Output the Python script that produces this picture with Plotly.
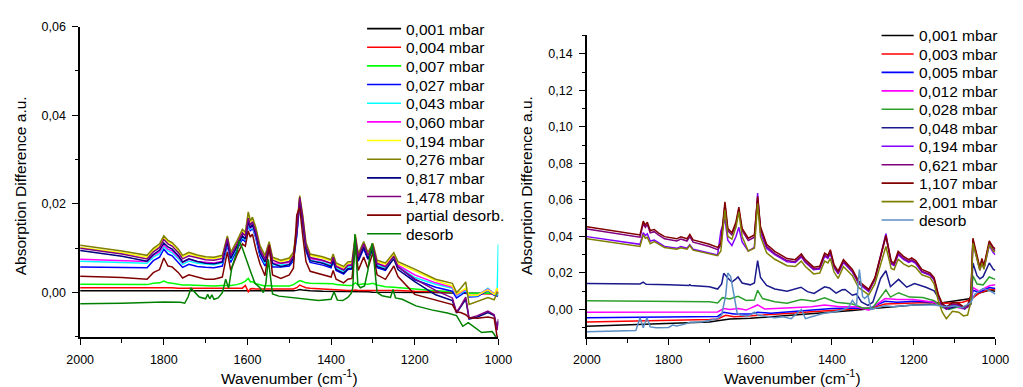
import plotly.graph_objects as go

# ---------------- Left panel data ----------------
wn_L = [2000,1900,1840,1825,1810,1800,1790,1780,1765,1755,1740,1720,1700,1680,1660,1648,1640,1625,1612,1605,
        1598,1593,1588,1580,1570,1558,1548,1540,1520,1500,1490,1482,1475,1468,1460,1450,1420,1400,1395,1388,
        1370,1360,1350,1342,1335,1322,1312,1300,1290,1270,1250,1240,1200,1150,1110,1100,1090,1078,1070,1050,
        1025,1010,1003,1000]

L_0001 = [.0004,.0004,.0004,.0004,.0004,.0004,.0004,.0004,.0004,.0004,
          .0004,.0004,.0004,.0004,.0003,.0003,.0003,.0003,.0003,.0003,
          .0003,.0003,.0003,.0003,.0003,.0003,.0003,.0003,.0003,.0004,
          .0004,.0005,.0007,.0006,.0005,.0004,.0003,.0003,.0003,.0002,
          .0002,.0002,.0002,.0002,.0002,.0002,.0002,.0001,.0001,.0001,
          .0001,.0001,.0000,.0000,-.0001,-.0001,-.0001,-.0001,-.0002,-.0002,
          -.0002,-.0002,-.0002,-.0002]
L_0004 = [.0011,.0011,.0011,.0011,.0011,.0012,.0011,.0011,.0010,.0010,
          .0010,.0010,.0009,.0009,.0009,.0009,.0009,.0009,.0010,.0016,
          .0002,.0008,.0009,.0008,.0008,.0007,.0007,.0007,.0007,.0007,
          .0008,.0011,.0017,.0014,.0011,.0010,.0008,.0006,.0006,.0006,
          .0005,.0005,.0005,.0006,.0005,.0005,.0005,.0005,.0005,.0005,
          .0006,.0005,.0003,.0002,.0001,.0000,.0000,.0000,-.0002,-.0002,
          -.0003,-.0003,-.0003,-.0003]
L_0007 = [.0019,.0019,.0018,.0021,.0022,.0026,.0022,.0021,.0019,.0017,
          .0017,.0016,.0015,.0015,.0016,.0016,.0016,.0018,.0022,.0026,
          .0032,.0024,.0025,.0020,.0017,.0015,.0016,.0015,.0015,.0015,
          .0018,.0022,.0027,.0025,.0022,.0021,.0020,.0019,.0020,.0018,
          .0016,.0016,.0016,.0022,.0018,.0020,.0019,.0021,.0017,.0013,
          .0012,.0011,.0008,.0004,.0002,-.0001,.0000,.0001,-.0002,-.0001,
          -.0001,-.0002,-.0001,-.0001]
L_0027 = [.0058,.0057,.0056,.0072,.0080,.0098,.0087,.0083,.0068,.0057,
          .0064,.0059,.0057,.0056,.0060,.0108,.0068,.0095,.0121,.0114,
          .0152,.0139,.0146,.0123,.0082,.0060,.0097,.0058,.0058,.0060,
          .0072,.0128,.0205,.0158,.0094,.0068,.0062,.0056,.0070,.0050,
          .0042,.0052,.0053,.0115,.0071,.0099,.0075,.0096,.0056,.0050,
          .0080,.0058,.0029,.0012,.0003,-.0012,-.0006,.0002,-.0010,-.0009,
          .0005,-.0006,-.0008,-.0006]
L_0043 = [.0071,.0068,.0066,.0080,.0088,.0104,.0094,.0090,.0076,.0064,
          .0071,.0066,.0064,.0063,.0067,.0112,.0074,.0100,.0125,.0118,
          .0155,.0142,.0149,.0127,.0088,.0066,.0102,.0063,.0062,.0064,
          .0076,.0132,.0207,.0162,.0098,.0073,.0068,.0062,.0076,.0056,
          .0048,.0058,.0059,.0118,.0076,.0104,.0080,.0101,.0062,.0056,
          .0081,.0060,.0034,.0019,.0010,-.0006,-.0002,.0006,-.0008,-.0007,
          .0010,-.0003,-.0005,.0109]
L_0060 = [.0075,.0072,.0070,.0084,.0092,.0108,.0098,.0094,.0080,.0068,
          .0075,.0070,.0068,.0067,.0071,.0115,.0078,.0103,.0128,.0121,
          .0158,.0145,.0152,.0130,.0092,.0070,.0105,.0067,.0066,.0068,
          .0080,.0135,.0210,.0165,.0102,.0077,.0072,.0066,.0080,.0060,
          .0052,.0062,.0063,.0122,.0080,.0108,.0084,.0105,.0066,.0060,
          .0085,.0062,.0040,.0022,.0012,-.0005,.0000,.0008,-.0007,-.0006,
          .0008,-.0003,.0005,.0000]
L_0194 = [.0102,.0090,.0080,.0096,.0106,.0125,.0115,.0110,.0095,.0081,
          .0088,.0082,.0078,.0077,.0081,.0125,.0088,.0114,.0140,.0133,
          .0178,.0159,.0167,.0144,.0103,.0081,.0112,.0077,.0070,.0075,
          .0088,.0144,.0216,.0173,.0110,.0084,.0078,.0071,.0084,.0064,
          .0056,.0066,.0067,.0127,.0084,.0112,.0088,.0108,.0070,.0064,
          .0087,.0066,.0049,.0027,.0015,-.0003,.0002,.0010,-.0006,-.0006,
          .0006,-.0004,.0010,.0000]
L_0276 = [.0107,.0094,.0084,.0100,.0110,.0128,.0118,.0113,.0098,.0084,
          .0091,.0085,.0081,.0080,.0084,.0128,.0091,.0117,.0143,.0136,
          .0182,.0162,.0170,.0147,.0106,.0084,.0115,.0080,.0073,.0078,
          .0091,.0147,.0219,.0176,.0113,.0087,.0081,.0074,.0087,.0067,
          .0059,.0069,.0070,.0130,.0087,.0115,.0091,.0111,.0073,.0067,
          .0090,.0070,.0053,.0030,.0021,.0000,.0010,.0024,-.0027,-.0020,
          -.0011,-.0016,.0000,-.0002]
L_0817 = [.0095,.0082,.0071,.0086,.0096,.0112,.0103,.0098,.0083,.0069,
          .0076,.0070,.0066,.0065,.0069,.0115,.0077,.0104,.0128,.0121,
          .0160,.0146,.0154,.0131,.0090,.0069,.0101,.0066,.0059,.0063,
          .0077,.0133,.0208,.0162,.0098,.0072,.0066,.0059,.0073,.0052,
          .0044,.0054,.0055,.0118,.0073,.0103,.0077,.0099,.0059,.0052,
          .0076,.0052,.0025,-.0005,-.0018,-.0046,-.0032,-.0015,-.0060,-.0055,
          -.0045,-.0052,-.0080,-.0065]
L_1478 = [.0100,.0087,.0076,.0092,.0102,.0120,.0110,.0105,.0090,.0076,
          .0083,.0078,.0074,.0073,.0077,.0122,.0084,.0110,.0135,.0128,
          .0168,.0152,.0160,.0138,.0098,.0076,.0108,.0073,.0066,.0070,
          .0084,.0140,.0215,.0170,.0105,.0079,.0073,.0066,.0080,.0059,
          .0051,.0061,.0062,.0124,.0080,.0110,.0084,.0106,.0066,.0058,
          .0082,.0058,.0031,.0005,-.0012,-.0044,-.0030,-.0010,-.0058,-.0052,
          -.0042,-.0050,-.0085,-.0060]
L_partial = [.0037,.0034,.0030,.0045,.0052,.0078,.0060,.0058,.0045,.0033,
             .0040,.0035,.0030,.0030,.0035,.0092,.0050,.0085,.0110,.0105,
             .0139,.0125,.0132,.0098,.0065,.0038,.0106,.0040,.0032,.0040,
             .0055,.0175,.0192,.0130,.0070,.0048,.0040,.0035,.0050,.0030,
             .0022,.0030,.0032,.0105,.0050,.0080,.0055,.0090,.0040,.0030,
             .0060,.0036,-.0004,-.0016,-.0027,-.0044,-.0045,-.0050,-.0057,-.0058,
             -.0055,-.0058,-.0100,-.0100]

wn_L_desorb = [2000,1900,1800,1760,1750,1742,1735,1725,1715,1700,
               1695,1690,1685,1680,1670,1660,1652,1645,1637,1625,
               1620,1612,1605,1600,1593,1582,1570,1562,1556,1550,
               1545,1540,1525,1505,1460,1430,1400,1393,1385,1372,
               1360,1352,1348,1343,1336,1330,1320,1312,1307,1302,
               1297,1290,1278,1258,1252,1246,1230,1197,1160,1122,
               1100,1085,1072,1040,1015,1010,1000]
L_desorb = [-.0025,-.0024,-.0021,-.0022,-.0024,-.0010,.0010,.0000,-.0010,-.0014,
            -.0004,-.0014,-.0005,-.0015,-.0012,.0000,.0030,.0010,.0058,.0091,
            .0117,.0100,.0080,.0065,.0049,.0021,.0011,.0000,.0020,.0075,
            .0030,-.0003,-.0008,-.0010,-.0015,-.0018,-.0015,.0002,-.0017,-.0018,
            -.0011,-.0002,.0011,.0132,.0018,.0011,.0015,.0050,.0085,.0111,
            .0068,.0000,-.0007,-.0011,.0007,-.0012,-.0015,-.0030,-.0039,-.0046,
            -.0052,-.0076,-.0068,-.0090,-.0088,-.0094,-.0110]

labels_L = ["0,001 mbar","0,004 mbar","0,007 mbar","0,027 mbar","0,043 mbar","0,060 mbar",
            "0,194 mbar","0,276 mbar","0,817 mbar","1,478 mbar","partial desorb.","desorb"]
colors_L = ["#000000","#FF0000","#00FF00","#0000FF","#00FFFF","#FF00FF",
            "#FFFF00","#808000","#000080","#800080","#800000","#008000"]

# ---------------- Right panel data ----------------
wn_R = [2000,1900,1870,1862,1857,1852,1845,1835,1825,1810,
        1780,1770,1755,1748,1740,1700,1680,1672,1662,1655,
        1645,1635,1628,1620,1605,1590,1582,1575,1560,1540,
        1510,1490,1475,1465,1445,1430,1418,1410,1404,1395,
        1385,1372,1360,1350,1335,1320,1310,1295,1280,1268,
        1255,1248,1238,1225,1212,1205,1195,1180,1160,1150,
        1140,1130,1120,1105,1090,1078,1068,1060,1055,1045,
        1038,1033,1028,1015,1005,1000]
R_1107 = [.0453,.0418,.0408,.0484,.0462,.0478,.0432,.0438,.0420,.0399,
          .0387,.0398,.0387,.0411,.0381,.0357,.0340,.0363,.0590,.0444,
          .0420,.0479,.0561,.0444,.0390,.0408,.0620,.0453,.0357,.0318,
          .0279,.0273,.0304,.0273,.0232,.0237,.0309,.0296,.0327,.0246,
          .0210,.0273,.0246,.0219,.0156,.0129,.0111,.0174,.0300,.0405,
          .0264,.0255,.0318,.0291,.0273,.0282,.0268,.0219,.0201,.0175,
          .0085,.0031,.0012,.0039,.0034,.0015,.0022,.0080,.0390,.0300,
          .0230,.0280,.0240,.0375,.0340,.0333]
R_0621 = [.0441,.0406,.0396,.0470,.0450,.0465,.0420,.0426,.0408,.0387,
          .0375,.0386,.0375,.0399,.0369,.0345,.0328,.0351,.0575,.0432,
          .0408,.0467,.0548,.0432,.0378,.0396,.0610,.0441,.0345,.0306,
          .0268,.0262,.0293,.0262,.0222,.0227,.0299,.0286,.0316,.0236,
          .0200,.0263,.0236,.0209,.0147,.0120,.0103,.0165,.0290,.0400,
          .0255,.0246,.0308,.0281,.0263,.0272,.0258,.0210,.0192,.0166,
          .0078,.0024,.0004,.0030,.0026,.0008,.0015,.0070,.0380,.0290,
          .0222,.0270,.0232,.0365,.0330,.0322]
R_0194 = [.0399,.0367,.0357,.0420,.0405,.0415,.0375,.0380,.0365,.0345,
          .0335,.0345,.0335,.0355,.0330,.0310,.0298,.0430,.0495,.0380,
          .0350,.0400,.0450,.0370,.0320,.0340,.0638,.0420,.0335,.0300,
          .0262,.0258,.0288,.0258,.0218,.0222,.0292,.0280,.0308,.0230,
          .0195,.0258,.0230,.0205,.0142,.0115,.0098,.0165,.0295,.0415,
          .0250,.0240,.0300,.0275,.0258,.0265,.0252,.0205,.0188,.0162,
          .0075,.0022,.0002,.0028,.0025,.0008,.0012,.0060,.0370,.0285,
          .0215,.0260,.0225,.0350,.0310,.0300]
R_2001 = [.0387,.0355,.0345,.0410,.0390,.0395,.0360,.0372,.0360,.0340,
          .0330,.0338,.0330,.0350,.0325,.0305,.0295,.0320,.0545,.0400,
          .0385,.0450,.0535,.0400,.0320,.0335,.0580,.0400,.0310,.0275,
          .0240,.0235,.0265,.0235,.0195,.0200,.0265,.0255,.0280,.0205,
          .0170,.0235,.0210,.0185,.0120,.0095,.0080,.0140,.0255,.0345,
          .0225,.0218,.0275,.0250,.0235,.0242,.0230,.0190,.0175,.0140,
          .0050,-.0015,-.0050,-.0010,-.0015,-.0035,-.0030,.0040,.0363,.0280,
          .0215,.0255,.0220,.0355,.0320,.0315]

wn_R_0048 = [2000,1870,1862,1855,1800,1750,1748,1745,1700,1680,1670,1665,1655,1645,1635,1630,1620,1600,1590,1582,
             1575,1560,1540,1510,1476,1460,1444,1418,1406,1390,1375,1368,1350,1340,1328,1312,1300,1281,1268,1257,
             1237,1217,1198,1170,1150,1130,1115,1100,1090,1075,1060,1055,1045,1038,1030,1015,1005,1000]
R_0048 = [.0142,.0140,.0150,.0138,.0135,.0132,.0136,.0131,.0125,.0112,.0140,.0198,.0172,.0150,.0168,.0178,.0145,.0135,.0145,.0268,
          .0175,.0132,.0112,.0100,.0122,.0098,.0088,.0124,.0118,.0090,.0108,.0110,.0078,.0085,.0042,.0022,.0040,.0170,.0212,.0125,
          .0165,.0122,.0142,.0122,.0102,.0031,.0005,.0012,.0020,.0002,.0045,.0255,.0185,.0168,.0180,.0255,.0220,.0215]
wn_R_0028 = [2000,1800,1700,1680,1668,1660,1650,1630,1610,1590,1582,1570,1540,1510,1475,1444,1418,1390,1350,1320,
             1300,1268,1257,1237,1210,1178,1150,1130,1115,1090,1075,1060,1055,1045,1030,1015,1000]
R_0028 = [.0048,.0046,.0042,.0036,.0065,.0062,.0058,.0072,.0050,.0052,.0105,.0060,.0042,.0035,.0055,.0045,.0064,.0040,.0030,.0005,
          .0010,.0108,.0068,.0092,.0068,.0066,.0048,.0012,.0000,.0015,.0005,.0030,.0185,.0140,.0135,.0178,.0165]
wn_R_0012 = [2000,1800,1700,1680,1665,1650,1630,1610,1582,1565,1500,1450,1418,1380,1340,1310,1270,1240,1200,1150,
             1120,1100,1080,1060,1055,1040,1015,1000]
R_0012 = [-.0015,-.0013,-.0012,-.0013,.0005,.0000,.0006,-.0003,.0025,.0003,.0010,.0015,.0025,.0015,.0015,-.0003,.0060,.0055,.0055,.0040,
          .0008,.0015,.0005,.0030,.0120,.0100,.0130,.0135]
wn_R_0005 = [2000,1800,1700,1680,1665,1640,1600,1582,1550,1500,1450,1400,1350,1310,1270,1240,1200,1150,1120,1100,
             1080,1060,1055,1040,1015,1000]
R_0005 = [-.0045,-.0042,-.0040,-.0038,-.0015,-.0025,-.0025,-.0015,-.0020,-.0012,-.0002,.0005,.0008,.0005,.0045,.0040,.0045,.0040,.0018,.0022,
          .0010,.0030,.0105,.0095,.0120,.0115]
wn_R_0003 = [2000,1800,1700,1680,1660,1640,1600,1550,1500,1450,1400,1350,1300,1270,1200,1150,1120,1080,1060,1040,1015,1000]
R_0003 = [-.0068,-.0062,-.0055,-.0052,-.0032,-.0040,-.0035,-.0030,-.0020,-.0012,-.0005,.0002,.0010,.0030,.0035,.0040,.0035,.0040,.0055,.0090,.0110,.0110]
wn_R_0001 = [2000,1900,1800,1700,1680,1650,1600,1550,1500,1450,1400,1350,1300,1250,1200,1150,1100,1080,1060,1040,1015,1000]
R_0001 = [-.0092,-.0085,-.0078,-.0068,-.0062,-.0052,-.0048,-.0040,-.0030,-.0020,-.0012,-.0005,.0005,.0015,.0025,.0030,.0045,.0055,.0060,.0090,.0105,.0100]
wn_R_desorb = [2000,1900,1880,1870,1862,1853,1845,1830,1800,1790,1780,1760,1748,1720,1700,1680,1670,1660,1655,1648,
               1640,1632,1625,1610,1600,1590,1582,1560,1540,1520,1500,1475,1465,1450,1420,1400,1380,1360,1350,1340,
               1333,1325,1320,1312,1305,1290,1270,1250,1230,1200,1150,1120,1100,1080,1060,1050,1040,1030,1015,1000]
R_desorb = [-.0122,-.0118,-.0115,-.0045,-.0100,-.0045,-.0095,-.0100,-.0098,-.0085,-.0090,-.0080,-.0070,-.0068,-.0060,-.0050,-.0030,.0080,.0200,.0180,
            .0080,-.0020,-.0030,-.0035,-.0030,-.0015,-.0030,-.0040,-.0045,-.0040,-.0050,.0000,-.0050,-.0040,-.0020,-.0015,-.0005,.0010,.0050,.0020,
            .0219,.0070,.0060,.0078,.0000,.0010,.0020,.0015,.0020,.0025,.0025,.0015,.0020,.0010,.0040,.0085,.0100,.0115,.0105,.0085]

labels_R = ["0,001 mbar","0,003 mbar","0,005 mbar","0,012 mbar","0,028 mbar","0,048 mbar",
            "0,194 mbar","0,621 mbar","1,107 mbar","2,001 mbar","desorb"]
colors_R = ["#000000","#FF0000","#0000FF","#FF00FF","#2CA02C","#1A1A8C",
            "#8000FF","#800080","#800000","#808000","#5B8EC4"]

# ---------------- Build figure ----------------
series_L = [(wn_L, L_0001), (wn_L, L_0004), (wn_L, L_0007), (wn_L, L_0027), (wn_L, L_0043),
            (wn_L, L_0060), (wn_L, L_0194), (wn_L, L_0276), (wn_L, L_0817), (wn_L, L_1478),
            (wn_L, L_partial), (wn_L_desorb, L_desorb)]
series_R = [(wn_R_0001, R_0001), (wn_R_0003, R_0003), (wn_R_0005, R_0005), (wn_R_0012, R_0012),
            (wn_R_0028, R_0028), (wn_R_0048, R_0048), (wn_R, R_0194), (wn_R, R_0621),
            (wn_R, R_1107), (wn_R, R_2001), (wn_R_desorb, R_desorb)]

for xs, ys in series_L + series_R:
    if len(xs) != len(ys):
        raise ValueError(f"length mismatch {len(xs)} vs {len(ys)}")

fig = go.Figure()
for (xs, ys), name, col in zip(series_L, labels_L, colors_L):
    fig.add_trace(go.Scatter(x=xs, y=ys, mode="lines", name=name, xaxis="x", yaxis="y",
                             line=dict(color=col, width=1.5), showlegend=False))
for (xs, ys), name, col in zip(series_R, labels_R, colors_R):
    fig.add_trace(go.Scatter(x=xs, y=ys, mode="lines", name=name, xaxis="x2", yaxis="y2",
                             line=dict(color=col, width=1.5), showlegend=False))

W, H = 1023, 387
FONT = "Arial, Liberation Sans, sans-serif"

def xd(a, b):
    return [a / W, b / W]

def yd(top, bottom):
    return [1 - bottom / H, 1 - top / H]

axis_common = dict(showgrid=False, zeroline=False, showline=True, linecolor="black", linewidth=1.5,
                   ticks="outside", ticklen=6, tickwidth=1.2, tickcolor="black", ticklabelstandoff=4,
                   tickfont=dict(family=FONT, size=12.5, color="black"), mirror=False)

# Legend blocks drawn as line samples + text (one block per panel)
shapes = []
annotations = []
legend_blocks = [
    (labels_L, colors_L, 363, 398, 401, 22.0, 19.0),
    (labels_R, colors_R, 892, 925, 928, 29.0, 18.8),
]
for labels, colors, lx0, lx1, tx, y0, dy in legend_blocks:
    for i, (lab, col) in enumerate(zip(labels, colors)):
        yy = y0 + i * dy
        shapes.append(dict(type="line", xref="paper", yref="paper",
                           x0=lx0 / W, x1=lx1 / W, y0=1 - yy / H, y1=1 - yy / H,
                           line=dict(color=col, width=1.6)))
        annotations.append(dict(text=lab, x=tx / W, y=1 - (yy + 0.5) / H, xref="paper", yref="paper",
                                showarrow=False, xanchor="left", yanchor="middle",
                                font=dict(family=FONT, size=15.5, color="black")))

annotations += [
    dict(text="Wavenumber (cm<sup>-1</sup>)", x=283 / W, y=1 - 377 / H, xref="paper", yref="paper",
         showarrow=False, xanchor="center", yanchor="middle", font=dict(family=FONT, size=15.5)),
    dict(text="Wavenumber (cm<sup>-1</sup>)", x=800 / W, y=1 - 377 / H, xref="paper", yref="paper",
         showarrow=False, xanchor="center", yanchor="middle", font=dict(family=FONT, size=15.5)),
    dict(text="Absorption Difference a.u.", x=-4 / W, y=1 - 182 / H, xref="paper", yref="paper",
         showarrow=False, xanchor="left", yanchor="middle", textangle=-90, font=dict(family=FONT, size=15.5)),
    dict(text="Absorption Difference a.u.", x=516 / W, y=1 - 182 / H, xref="paper", yref="paper",
         showarrow=False, xanchor="left", yanchor="middle", textangle=-90, font=dict(family=FONT, size=15.5)),
]

fig.update_layout(
    width=W, height=H, margin=dict(l=0, r=0, t=0, b=0),
    paper_bgcolor="white", plot_bgcolor="white",
    separators=",.",
    font=dict(family=FONT, color="black"),
    showlegend=False,
    xaxis=dict(domain=xd(68, 498), range=[2000, 1000], dtick=200, tick0=0, anchor="y",
               minor=dict(dtick=100, ticks="outside", ticklen=4, tickcolor="black"), **axis_common),
    yaxis=dict(domain=yd(20, 336), range=[-0.01, 0.06], dtick=0.02, tick0=0, tickformat=".2f", anchor="x",
               minor=dict(dtick=0.01, ticks="outside", ticklen=3, tickcolor="black"), **axis_common),
    xaxis2=dict(domain=xd(589, 1009), range=[2000, 1000], dtick=200, tick0=0, anchor="y2",
                minor=dict(dtick=100, ticks="outside", ticklen=4, tickcolor="black"), **axis_common),
    yaxis2=dict(domain=yd(29, 336), range=[-0.015, 0.15], dtick=0.02, tick0=0, tickformat=".2f", anchor="x2",
                minor=dict(dtick=0.01, ticks="outside", ticklen=3, tickcolor="black"), **axis_common),
    shapes=shapes,
    annotations=annotations,
)

fig.write_html("out.html")
